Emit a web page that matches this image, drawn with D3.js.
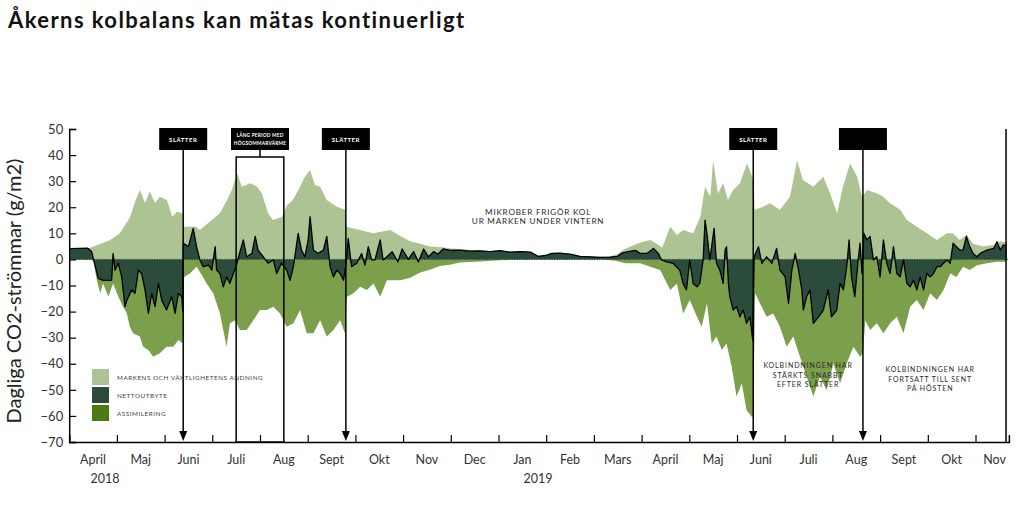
<!DOCTYPE html>
<html><head><meta charset="utf-8">
<script src="https://cdn.jsdelivr.net/npm/d3@7"></script>
<style>body{margin:0;background:#fff}svg{display:block}</style>
</head><body>
<svg id="c" width="1024" height="510"></svg>
<script>
// ---- DATA (x = decimal months since 1 April 2018, value = g CO2/m2/day) ----
const monthLabels = ["April","Maj","Juni","Juli","Aug","Sept","Okt","Nov","Dec","Jan","Feb","Mars","April","Maj","Juni","Juli","Aug","Sept","Okt","Nov"];
const yearLabels = [["2018",0.75],["2019",9.83]];
const yTicks = [50,40,30,20,10,0,-10,-20,-30,-40,-50,-60,-70];

const respiration = [[0.02,4.1],[0.39,4.3],[0.50,4.9],[0.86,7.4],[1.06,10],[1.27,16],[1.38,22],[1.48,26.6],[1.59,21.6],[1.69,26],[1.80,21.6],[1.90,24],[2.05,22.8],[2.16,16.4],[2.26,18.3],[2.38,17.7],[2.40,12.5],[2.66,12.5],[2.74,11.3],[2.95,14.5],[3.16,17.7],[3.31,22.8],[3.41,26.6],[3.52,33],[3.62,27.9],[3.79,29.2],[3.94,27.9],[4.04,25.3],[4.17,17.7],[4.27,15.1],[4.46,16.4],[4.57,20.9],[4.69,22.8],[4.84,27.9],[4.94,31.7],[5.05,34.3],[5.15,28.5],[5.26,27.9],[5.40,22.8],[5.61,20.2],[5.79,19],[5.81,12.5],[6.10,11.3],[6.37,10],[6.73,11.3],[6.94,9],[7.15,7],[7.36,6],[7.56,5],[7.77,4.8],[7.98,4.3],[8.19,4],[8.40,3.6],[8.61,3.5],[8.82,3.2],[9.03,3.4],[9.24,2.9],[9.46,3],[9.67,2.9],[9.83,1.3],[9.98,1.6],[10.12,2.4],[10.29,2.5],[10.50,2.1],[10.71,1.3],[10.92,1.1],[11.13,1],[11.34,1.2],[11.49,2],[11.60,3.5],[11.77,5],[11.97,6.5],[12.18,7.4],[12.32,6],[12.43,4.5],[12.60,12.5],[12.74,9.4],[12.87,11.3],[13.08,10],[13.23,16.4],[13.33,27.9],[13.44,24],[13.50,38],[13.60,25.3],[13.71,29.2],[13.81,22.8],[13.92,26.6],[14.06,29.2],[14.21,36.8],[14.32,31.7],[14.35,29.2],[14.37,19],[14.55,20.2],[14.69,21.5],[14.90,19],[15.11,24],[15.26,38],[15.38,30.4],[15.60,27.9],[15.81,31.7],[15.95,25.3],[16.10,17.7],[16.22,27.9],[16.37,36.8],[16.52,31.7],[16.62,24],[16.73,26.6],[16.94,25.3],[17.06,24],[17.21,21.5],[17.42,19],[17.56,15.1],[17.77,12.5],[17.98,10],[18.19,7.4],[18.40,10],[18.53,10],[18.67,7.4],[18.81,9.5],[18.95,6],[19.16,5],[19.37,5.5],[19.52,7],[19.66,6.5]];

const netExchange = [[0.02,4.1],[0.39,4.3],[0.47,3],[0.51,0],[0.61,-7.3],[0.71,-8],[0.86,-8],[0.89,-8],[0.92,2.3],[0.96,-4.1],[1.03,-1.5],[1.10,-6.7],[1.17,-18.1],[1.21,-15.6],[1.31,-11.7],[1.38,-13],[1.45,-4.1],[1.52,-5.4],[1.59,-11.7],[1.66,-20.7],[1.73,-13],[1.80,-18.1],[1.87,-9.2],[1.94,-15.6],[2.04,-19.4],[2.15,-14.3],[2.22,-20.7],[2.29,-13],[2.36,-14.3],[2.38,-20],[2.39,6.2],[2.50,4.9],[2.60,11.9],[2.67,4.9],[2.74,-0.2],[2.81,-2.8],[2.92,-2.2],[2.99,-4.1],[3.06,4.9],[3.09,-4.1],[3.16,-5.4],[3.23,-10.5],[3.30,-6.7],[3.37,-9.2],[3.44,-5.4],[3.50,-2.8],[3.55,1],[3.65,7.5],[3.72,1],[3.83,2.3],[3.90,8.8],[3.96,3.6],[4.07,1],[4.17,-1.5],[4.28,-0.2],[4.35,-5.4],[4.45,-1.5],[4.56,-4.1],[4.63,-8],[4.70,-2.8],[4.80,10],[4.87,3.6],[4.94,1],[5.01,7.5],[5.05,16.4],[5.12,3.6],[5.22,2.3],[5.33,3.6],[5.40,8.8],[5.47,-2.8],[5.54,-6.7],[5.61,-4.1],[5.68,-5.4],[5.75,-8],[5.80,-2.2],[5.85,8.1],[5.92,-2.8],[6.03,-1.5],[6.13,2.3],[6.20,-2.2],[6.27,4.9],[6.34,-0.2],[6.41,-0.2],[6.52,7.5],[6.58,-0.2],[6.66,1],[6.77,3],[6.89,-1],[6.98,4],[7.11,0],[7.22,3],[7.32,-1],[7.43,4],[7.53,1],[7.64,3],[7.73,2],[7.84,4],[7.99,3.5],[8.19,3.6],[8.40,3.2],[8.61,3.3],[8.82,3],[9.03,3.4],[9.24,2.8],[9.46,3],[9.67,2.8],[9.83,1.2],[9.98,1.5],[10.12,2.3],[10.29,2.4],[10.50,2],[10.71,1.2],[10.92,1],[11.13,0.8],[11.34,0.9],[11.49,1.2],[11.60,2.5],[11.72,3],[11.87,3.5],[11.97,2.3],[12.11,2.3],[12.25,4.2],[12.35,2.3],[12.42,-0.2],[12.53,-0.9],[12.66,-1.5],[12.80,-4.1],[12.87,-9.2],[12.94,-11.7],[13.01,-0.2],[13.08,-9.2],[13.16,-10.5],[13.22,-9.2],[13.29,-0.2],[13.33,15.1],[13.37,10],[13.43,-0.2],[13.52,11.9],[13.57,-1.5],[13.64,-4.1],[13.71,-9.2],[13.75,3.6],[13.78,4.9],[13.82,-9.2],[13.85,-14.3],[13.92,-19.4],[13.99,-18.1],[14.06,-22],[14.13,-19.4],[14.20,-24.5],[14.27,-22],[14.33,-31],[14.36,1],[14.45,4.9],[14.52,-1.5],[14.62,1],[14.73,-1.5],[14.83,4.2],[14.90,-4.1],[15.01,-6.7],[15.08,-16.8],[15.15,-4.1],[15.22,2.3],[15.29,-4.1],[15.36,-11.7],[15.39,-19.4],[15.46,-14.3],[15.53,-11.7],[15.60,-24.5],[15.71,-22],[15.81,-19.4],[15.91,-11.7],[15.98,-22],[16.09,-19.4],[16.16,-9.2],[16.23,-11.7],[16.30,-2.8],[16.35,7.5],[16.40,-6.7],[16.47,-14.3],[16.54,-0.2],[16.58,6.2],[16.62,-5.4],[16.66,10],[16.72,7.5],[16.79,8.8],[16.86,-0.2],[16.93,1],[17.00,-6.7],[17.07,7.5],[17.14,-1.5],[17.21,-5.4],[17.28,4.9],[17.35,-5.4],[17.42,-6.7],[17.49,-0.2],[17.56,-9.2],[17.63,-10.5],[17.70,-8],[17.77,-11.7],[17.84,-6.7],[17.91,-11.7],[17.98,-5.4],[18.05,-6.7],[18.12,-5.4],[18.19,-2.8],[18.26,-2.8],[18.33,-1.5],[18.40,-0.2],[18.47,-1.5],[18.53,6.2],[18.60,4.9],[18.67,3.6],[18.74,3.6],[18.81,8.8],[18.88,4.9],[18.95,2.3],[19.03,1],[19.10,2.3],[19.24,3.6],[19.38,4.2],[19.45,6.8],[19.52,3.6],[19.58,5.5],[19.65,5.5]];

const assimilation = [[0.46,0],[0.51,-0.9],[0.58,-8],[0.65,-13],[0.71,-9.2],[0.82,-14.3],[0.92,-9.2],[1.03,-14.3],[1.13,-18.1],[1.21,-20.7],[1.27,-25.8],[1.34,-28.3],[1.48,-29.6],[1.55,-33.5],[1.66,-34.7],[1.76,-37.3],[1.90,-36],[2.04,-33.5],[2.18,-33.5],[2.29,-30.9],[2.38,-32.2],[2.41,-6.7],[2.53,-5.4],[2.67,-2.8],[2.78,-6],[2.88,-9.2],[3.02,-13],[3.16,-20.7],[3.23,-27.1],[3.30,-33.5],[3.37,-24.5],[3.48,-23.3],[3.58,-27.1],[3.72,-27.1],[3.86,-23.3],[4.00,-19.4],[4.14,-19.4],[4.28,-18.1],[4.42,-20.7],[4.49,-23.3],[4.56,-25.8],[4.70,-24.5],[4.84,-19.4],[4.98,-28.3],[5.12,-28.3],[5.26,-23.3],[5.40,-29.6],[5.54,-27.1],[5.68,-23.3],[5.78,-28.3],[5.82,-14.3],[5.96,-13],[6.10,-10.5],[6.24,-11.7],[6.38,-9.2],[6.52,-14.3],[6.66,-8],[6.94,-8],[7.15,-7],[7.36,-5],[7.56,-4],[7.77,-2.5],[7.98,-2],[8.19,-1.2],[8.61,-0.8],[9.03,-0.3],[9.46,0],[11.13,0],[11.45,-0.5],[11.66,-1.5],[11.97,-1.5],[12.18,-2.8],[12.39,-4.1],[12.60,-11.7],[12.74,-9.2],[12.87,-20.7],[13.01,-15.6],[13.16,-22],[13.26,-25.8],[13.37,-16.8],[13.47,-32.2],[13.57,-29.6],[13.68,-34.7],[13.78,-32.2],[13.89,-41.2],[13.99,-52.6],[14.10,-47.5],[14.20,-57.8],[14.31,-60.3],[14.34,-60.3],[14.38,-13],[14.48,-16.8],[14.62,-22],[14.76,-20.7],[14.90,-25.8],[15.04,-33.5],[15.18,-29.6],[15.32,-37.3],[15.46,-45],[15.60,-52.6],[15.74,-45],[15.88,-50.2],[16.02,-39.9],[16.16,-47.5],[16.30,-39.9],[16.44,-33.5],[16.58,-37.3],[16.64,-36],[16.69,-23.3],[16.79,-27.1],[16.93,-24.5],[17.07,-28.3],[17.21,-24.5],[17.35,-22],[17.49,-28.3],[17.63,-18.1],[17.77,-15.6],[17.91,-19.4],[18.05,-13],[18.19,-15.6],[18.33,-11.7],[18.47,-5.4],[18.60,-6.7],[18.74,-2.8],[18.88,-4.1],[19.03,-2.2],[19.24,-1.5],[19.45,-0.9],[19.65,-0.9]];

const events = [[2.39,"SLÄTTER"],[5.80,"SLÄTTER"],[14.34,"SLÄTTER"],[16.64,""]];
const heatPeriod = [3.50,4.50];
const heatLabel = ["LÅNG PERIOD MED","HÖGSOMMARVÄRME"];
const dataEnd = 19.64;
const legendItems = ["MARKENS OCH VÄXTLIGHETENS ANDNING","NETTOUTBYTE","ASSIMILERING"];

// ---- DRAWING ----
const svg = d3.select("#c");
const FONT = "Lato, 'Open Sans', sans-serif";
const C = {resp:"#aec393", assim:"#7c9f4b", net:"#2b4c3b", legAssim:"#4b7b12", text:"#333"};
const x = d3.scaleLinear().domain([0,19.7]).range([69.2,1008.9]);
const y = d3.scaleLinear().domain([-70,50]).range([442,129]);

svg.append("text").attr("x",8).attr("y",28).attr("font-family",FONT).attr("font-weight",700)
  .attr("font-size",22).attr("letter-spacing",1.42).attr("fill","#111").text("Åkerns kolbalans kan mätas kontinuerligt");

const area = d3.area().x(d=>x(d[0])).y0(y(0)).y1(d=>y(d[1]));
const line = d3.line().x(d=>x(d[0])).y(d=>y(d[1]));
svg.append("path").datum(respiration).attr("d",area).attr("fill",C.resp);
svg.append("path").datum(assimilation).attr("d",area).attr("fill",C.assim);
svg.append("path").datum(netExchange).attr("d",area).attr("fill",C.net);
svg.append("line").attr("x1",x(0)).attr("x2",x(19.7)).attr("y1",y(0)).attr("y2",y(0))
  .attr("stroke","#1d2f28").attr("stroke-width",1).attr("stroke-dasharray","1,1.5");
svg.append("path").datum(netExchange).attr("d",line).attr("fill","none")
  .attr("stroke","#000").attr("stroke-width",1.3).attr("stroke-linejoin","round");

// axes
const yAxis = svg.append("g").attr("transform",`translate(${x(0)},0)`)
  .call(d3.axisLeft(y).tickValues(yTicks).tickSize(-7).tickPadding(6));
yAxis.select(".domain").attr("stroke","#000").attr("stroke-width",1.5);
yAxis.selectAll(".tick line").attr("stroke","#000").attr("stroke-width",1.2);
yAxis.selectAll("text").attr("font-family",FONT).attr("font-size",13).attr("fill",C.text);

const xAxis = svg.append("g").attr("transform",`translate(0,${y(-70)})`)
  .call(d3.axisBottom(x).tickValues(d3.range(0,20)).tickSize(-7).tickFormat(""));
xAxis.select(".domain").attr("stroke","#000").attr("stroke-width",1.5);
xAxis.selectAll(".tick line").attr("stroke","#000").attr("stroke-width",1.2);

svg.append("g").selectAll("text").data(monthLabels).join("text")
  .attr("x",(d,i)=>x(Math.min(i+0.5,19.4))).attr("y",464).attr("text-anchor","middle")
  .attr("font-family",FONT).attr("font-size",12.5).attr("fill",C.text).text(d=>d);
svg.append("g").selectAll("text").data(yearLabels).join("text")
  .attr("x",d=>x(d[1])).attr("y",483).attr("text-anchor","middle")
  .attr("font-family",FONT).attr("font-size",12.5).attr("fill",C.text).text(d=>d[0]);

svg.append("text").attr("transform","translate(21,291) rotate(-90)").attr("text-anchor","middle")
  .attr("font-family",FONT).attr("font-size",20).attr("fill","#222").text("Dagliga CO2-strömmar (g/m2)");

// annotations
const ann = svg.append("g");
events.forEach(([m,label])=>{
  const cx = x(m);
  ann.append("rect").attr("x",cx-24).attr("y",128).attr("width",48).attr("height",22).attr("fill","#000");
  if(label) ann.append("text").attr("x",cx).attr("y",141.5).attr("text-anchor","middle")
    .attr("font-family",FONT).attr("font-weight",700).attr("font-size",6).attr("letter-spacing",0.5)
    .attr("fill","#fff").text(label);
  ann.append("line").attr("x1",cx).attr("x2",cx).attr("y1",150).attr("y2",432)
    .attr("stroke","#000").attr("stroke-width",1.5);
  ann.append("path").attr("d",`M${cx-4},${431}L${cx+4},${431}L${cx},${441}Z`).attr("fill","#000");
});
const hx0 = x(heatPeriod[0]), hx1 = x(heatPeriod[1]), hc = (hx0+hx1)/2;
ann.append("rect").attr("x",hc-29).attr("y",128).attr("width",58).attr("height",22).attr("fill","#000");
heatLabel.forEach((t,i)=>ann.append("text").attr("x",hc).attr("y",137+i*7.5).attr("text-anchor","middle")
  .attr("font-family",FONT).attr("font-weight",700).attr("font-size",4.8).attr("letter-spacing",0.2)
  .attr("fill","#fff").text(t));
ann.append("line").attr("x1",hc).attr("x2",hc).attr("y1",150).attr("y2",157).attr("stroke","#000").attr("stroke-width",1.5);
ann.append("rect").attr("x",hx0).attr("y",157).attr("width",hx1-hx0).attr("height",y(-70)-157)
  .attr("fill","none").attr("stroke","#000").attr("stroke-width",1.5);
ann.append("line").attr("x1",x(dataEnd)).attr("x2",x(dataEnd)).attr("y1",129).attr("y2",y(-70))
  .attr("stroke","#000").attr("stroke-width",1.5);

function note(lines, cx, y0, dy, fs, ls){
  lines.forEach((t,i)=>ann.append("text").attr("x",cx).attr("y",y0+i*dy).attr("text-anchor","middle")
    .attr("font-family",FONT).attr("font-size",fs).attr("letter-spacing",ls).attr("fill","#2a2a2a").text(t));
}
note(["MIKROBER FRIGÖR KOL","UR MARKEN UNDER VINTERN"], x(9.83), 214.5, 9.5, 8.2, 0.75);
note(["KOLBINDNINGEN HAR","STÄRKTS SNABBT","EFTER SLÄTTER"], x(15.49), 368, 9.5, 7, 0.9);
note(["KOLBINDNINGEN HAR","FORTSATT TILL SENT","PÅ HÖSTEN"], x(18.05), 372, 9.7, 7, 0.9);

// legend
const legColors = [C.resp, C.net, C.legAssim];
const leg = svg.append("g");
legendItems.forEach((t,i)=>{
  leg.append("rect").attr("x",92).attr("y",369+i*18).attr("width",17).attr("height",16).attr("fill",legColors[i]);
  leg.append("text").attr("x",117).attr("y",379.5+i*18).attr("font-family",FONT).attr("font-size",6.3)
    .attr("letter-spacing",0.55).attr("fill","#2f4a44").text(t);
});
</script>
</body></html>
